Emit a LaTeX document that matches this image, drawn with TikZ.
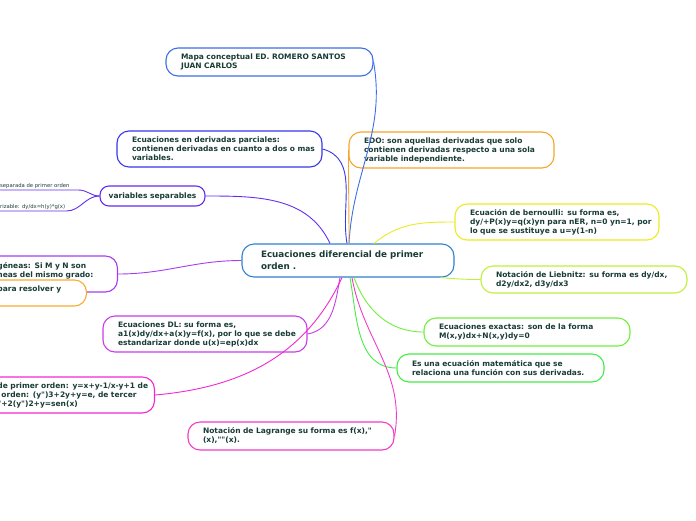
\documentclass[tikz,border=0pt]{standalone}
\usepackage{fontspec}
\setmainfont{DejaVu Sans}[Ligatures=TeXOff]
\usepackage{xcolor}
\usetikzlibrary{positioning}

\definecolor{txt}{RGB}{25,60,55}
\definecolor{ctit}{RGB}{60,110,230}
\definecolor{cdp}{RGB}{55,55,235}
\definecolor{cedo}{RGB}{245,165,45}
\definecolor{cvs}{RGB}{100,45,240}
\definecolor{cmain}{RGB}{45,130,210}
\definecolor{cber}{RGB}{235,235,35}
\definecolor{clie}{RGB}{190,240,60}
\definecolor{chom}{RGB}{165,60,240}
\definecolor{cora}{RGB}{250,170,50}
\definecolor{cdl}{RGB}{200,60,230}
\definecolor{cexa}{RGB}{110,240,60}
\definecolor{cesu}{RGB}{70,235,70}
\definecolor{cbl}{RGB}{240,40,210}
\definecolor{clag}{RGB}{240,60,200}

% one printed line, never wrapped
\newcommand{\oneline}[1]{\mbox{#1}}

\begin{document}
\begin{tikzpicture}[
  x=1pt, y=-1pt,
  every node/.style={text=txt},
  topic/.style={draw, rounded corners=12pt, fill=white, line width=1.1pt,
                inner xsep=15pt, inner ysep=0pt, align=left,
                font=\fontsize{7.5}{9}\selectfont\bfseries},
  sub/.style={font=\fontsize{5.3}{6}\selectfont, inner sep=1pt},
  link/.style={line width=0.9pt},
]
  \useasboundingbox (0,0) rectangle (696,520);
  \clip (0,0) rectangle (696,520);

  % central topic
  \node[topic, draw=cmain, minimum height=33pt, text width=174pt, inner xsep=19pt,
        font=\fontsize{8.8}{12}\selectfont\bfseries] (cen) at (348,260.5)
        {\oneline{Ecuaciones diferencial de primer}\\orden .};

  % upper branches
  \node[topic, draw=ctit, minimum height=28pt, text width=177pt] (tit) at (269.5,62)
        {\oneline{Mapa conceptual ED. ROMERO SANTOS}\\JUAN CARLOS};
  \node[topic, draw=cdp, minimum height=36pt, text width=175pt] (dp) at (219.5,149)
        {\oneline{Ecuaciones en derivadas parciales:}\\
         \oneline{contienen derivadas en cuanto a dos o mas}\\variables.};
  \node[topic, draw=cedo, minimum height=36pt, text width=175pt] (edo) at (451.5,150)
        {\oneline{EDO: son aquellas derivadas que solo}\\
         \oneline{contienen derivadas respecto a una sola}\\
         \oneline{variable independiente.}};
  \node[topic, draw=cvs, minimum height=20pt, minimum width=105pt, align=center,
        rounded corners=9pt, inner xsep=8pt] (vs) at (152.5,196) {variables separables};
  \node[sub, anchor=south west] (s1) at (-1,190) {separada de primer orden};
  \node[sub, anchor=south west] (s2) at (-1,211) {rizable: dy/dx=h(y)*g(x)};

  % right branches
  \node[topic, draw=cber, minimum height=36pt, text width=174pt] (ber) at (557,222)
        {\oneline{Ecuación de bernoulli: su forma es,}\\
         \oneline{dy/+P(x)y=q(x)yn para nER, n=0 yn=1, por}\\
         \oneline{lo que se sustituye a u=y(1-n)}};
  \node[topic, draw=clie, minimum height=27pt, text width=176pt] (lie) at (584,279.5)
        {\oneline{Notación de Liebnitz: su forma es dy/dx,}\\d2y/dx2, d3y/dx3};
  \node[topic, draw=cexa, minimum height=28pt, text width=176pt] (exa) at (527,332)
        {\oneline{Ecuaciones exactas: son de la forma}\\M(x,y)dx+N(x,y)dy=0};
  \node[topic, draw=cesu, minimum height=28pt, text width=177pt] (esu) at (500.5,368)
        {\oneline{Es una ecuación matemática que se}\\
         \oneline{relaciona una función con sus derivadas.}};

  % left and lower branches
  \node[topic, draw=chom, minimum height=36pt, text width=105pt, anchor=east] (hom) at (118,274)
        {\oneline{géneas: Si M y N son}\\\oneline{neas del mismo grado:}\\~};
  \node[topic, draw=cora, minimum height=26pt, text width=74pt, anchor=east] (ora) at (87,293)
        {\oneline{para resolver y}\\~};
  \node[topic, draw=cdl, minimum height=36pt, text width=174pt] (dl) at (205,334)
        {\oneline{Ecuaciones DL: su forma es,}\\
         \oneline{a1(x)dy/dx+a(x)y=f(x), por lo que se debe}\\
         \oneline{estandarizar donde u(x)=ep(x)dx}};
  \node[topic, draw=cbl, minimum height=36pt, text width=142pt, anchor=east] (bl) at (155,395)
        {\oneline{de primer orden: y=x+y-1/x-y+1 de}\\
         \oneline{\hspace*{4pt}orden: (y")3+2y+y=e, de tercer}\\
         \oneline{"+2(y")2+y=sen(x)}};
  \node[topic, draw=clag, minimum height=28pt, text width=176pt] (lag) at (291,436)
        {\oneline{Notación de Lagrange su forma es f(x),"}\\(x),""(x).};

  % connectors
  \draw[link, ctit] ([xshift=1pt]cen.north) to[out=87, in=-80] (tit.east);
  \draw[link, cdp] ([xshift=-1pt]cen.north) to[out=100, in=-15] (dp.east);
  \draw[link, cedo] ([xshift=1pt]cen.north) to[out=90, in=-90] (edo.west);
  \draw[link, cvs] ([xshift=-18pt]cen.north) to[out=115, in=0] (vs.east);
  \draw[link, cvs] (s1.south west) -- ([xshift=8pt]s1.south east) to[out=0, in=180] (vs.west);
  \draw[link, cvs] (s2.south west) -- (s2.south east) to[out=0, in=180] (vs.west);
  \draw[link, cber] ([xshift=26pt]cen.north) to[out=40, in=180] (ber.west);
  \draw[link, clie] ([xshift=-14pt]cen.south east) to[out=-5, in=180] (lie.west);
  \draw[link, chom] (cen.west) to[out=180, in=0] (hom.east);
  \draw[link, cdl] ([xshift=-8pt]cen.south) to[out=-100, in=10] (dl.east);
  \draw[link, cexa] ([xshift=6pt]cen.south) to[out=-70, in=180] (exa.west);
  \draw[link, cesu] ([xshift=2pt]cen.south) to[out=-80, in=180] (esu.west);
  \draw[link, cbl] ([xshift=-6pt]cen.south) to[out=-115, in=5] (bl.east);
  \draw[link, clag] ([xshift=4pt]cen.south) to[out=-80, in=80] (lag.east);
\end{tikzpicture}
\end{document}
